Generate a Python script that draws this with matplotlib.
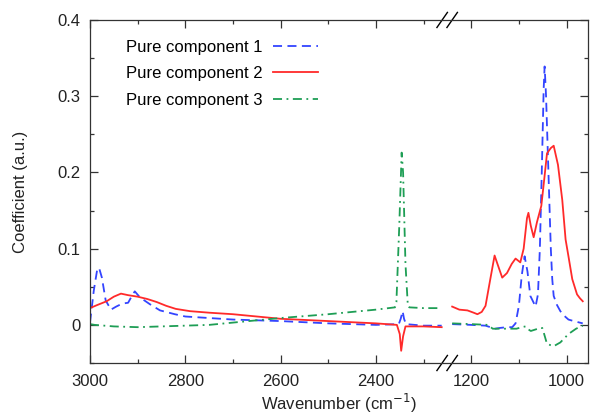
import numpy as np
from matplotlib import pyplot as plt
from matplotlib.transforms import blended_transform_factory

plt.rcParams['font.family'] = ['Liberation Sans', 'DejaVu Sans']

# right part of the axis is shifted by this offset (1250 -> 2250)
SHIFT = 1000

# component 1 (blue, dashed)
c1_left_w = [3000, 2992, 2985, 2981, 2975, 2967, 2956, 2945, 2932, 2920, 2912, 2906, 2895,
             2874, 2853, 2822, 2800, 2750, 2700, 2600, 2500, 2400, 2352, 2348, 2344, 2341,
             2337, 2300, 2262]
c1_left_v = [0.003, 0.045, 0.072, 0.075, 0.062, 0.032, 0.020, 0.024, 0.028, 0.029, 0.038,
             0.044, 0.036, 0.027, 0.019, 0.014, 0.011, 0.009, 0.007, 0.005, 0.002, 0.0,
             0.001, 0.008, 0.018, 0.008, 0.001, -0.001, -0.001]
c1_right_w = [1240, 1200, 1170, 1160, 1150, 1140, 1125, 1114, 1107, 1100, 1094, 1088, 1082,
              1076, 1065, 1060, 1056, 1052, 1048, 1046, 1043, 1038, 1033, 1030, 1027, 1020,
              1013, 1005, 996, 985, 966]
c1_right_v = [0.001, 0.0, -0.001, -0.003, -0.005, -0.004, -0.003, -0.003, 0.002, 0.025,
              0.065, 0.09, 0.07, 0.038, 0.024, 0.04, 0.1, 0.2, 0.31, 0.339, 0.3, 0.2, 0.1,
              0.06, 0.038, 0.026, 0.018, 0.012, 0.007, 0.005, 0.002]

# component 2 (red, solid)
c2_left_w = [3000, 2985, 2965, 2950, 2935, 2920, 2900, 2880, 2860, 2840, 2820, 2790, 2750,
             2700, 2650, 2600, 2500, 2400, 2356, 2350, 2347, 2343, 2338, 2300, 2262]
c2_left_v = [0.022, 0.026, 0.031, 0.037, 0.041, 0.039, 0.037, 0.034, 0.030, 0.025, 0.021,
             0.018, 0.016, 0.014, 0.011, 0.008, 0.005, 0.002, 0.0, -0.012, -0.034, -0.015,
             -0.002, -0.002, -0.003]
c2_right_w = [1240, 1225, 1208, 1195, 1187, 1178, 1170, 1160, 1151, 1145, 1135, 1125, 1115,
              1107, 1097, 1090, 1083, 1080, 1075, 1069, 1062, 1053, 1047, 1041, 1033, 1027,
              1018, 1009, 1002, 996, 988, 978, 972, 966]
c2_right_v = [0.024, 0.020, 0.019, 0.016, 0.014, 0.017, 0.025, 0.060, 0.091, 0.080, 0.062,
              0.068, 0.080, 0.087, 0.082, 0.100, 0.140, 0.147, 0.130, 0.115, 0.135, 0.156,
              0.190, 0.225, 0.232, 0.235, 0.210, 0.164, 0.112, 0.090, 0.060, 0.040, 0.035,
              0.031]

# component 3 (green, dash-dot)
c3_left_w = [3000, 2990, 2950, 2900, 2850, 2800, 2750, 2700, 2650, 2600, 2500, 2400, 2360,
             2357, 2351, 2346, 2343, 2338, 2333, 2330, 2300, 2262]
c3_left_v = [0.001, 0.0, -0.002, -0.003, -0.002, -0.001, 0.0, 0.003, 0.006, 0.009, 0.014,
             0.020, 0.023, 0.03, 0.13, 0.226, 0.2, 0.08, 0.025, 0.023, 0.022, 0.022]
c3_right_w = [1240, 1200, 1165, 1155, 1105, 1094, 1086, 1080, 1075, 1060, 1051, 1047, 1041,
              1027, 1013, 996, 980, 966]
c3_right_v = [0.002, 0.001, 0.0, -0.005, -0.005, -0.003, -0.002, -0.006, -0.008, -0.005,
              -0.004, -0.012, -0.025, -0.028, -0.023, -0.012, -0.005, -0.001]

tick_major = [3000, 2800, 2600, 2400, 1200, 1000]
tick_minor = [2900, 2700, 2500, 2300, 1100]
y_ticks = [0, 0.1, 0.2, 0.3, 0.4]
y_ticklabels = ['0', '0.1', '0.2', '0.3', '0.4']


def shifted(w):
    w = np.array(w, dtype=float)
    return np.where(w < 2000, w + SHIFT, w)


fig = plt.figure(figsize=(5.9, 4.16), dpi=100)
ax = fig.add_axes([0.1525, 0.1274, 0.8441, 0.8246])

blue = '#3344ff'
red = '#ff2a2a'
green = '#1e9e55'
lw = 1.3

ax.plot(shifted(c1_left_w), c1_left_v, color=blue, lw=lw, dashes=(5, 3),
        label='Pure component 1')
ax.plot(shifted(c1_right_w), c1_right_v, color=blue, lw=lw, dashes=(5, 3))
ax.plot(shifted(c2_left_w), c2_left_v, color=red, lw=lw, label='Pure component 2')
ax.plot(shifted(c2_right_w), c2_right_v, color=red, lw=lw)
ax.plot(shifted(c3_left_w), c3_left_v, color=green, lw=lw, dashes=(5, 2.5, 1, 2.5),
        label='Pure component 3')
ax.plot(shifted(c3_right_w), c3_right_v, color=green, lw=lw, dashes=(5, 2.5, 1, 2.5))

ax.set_xlim(3000, 1955)
ax.set_ylim(-0.05, 0.4)

ax.set_xticks(shifted(tick_major))
ax.set_xticklabels([str(t) for t in tick_major])
ax.set_xticks(shifted(tick_minor), minor=True)
ax.set_yticks(y_ticks)
ax.set_yticklabels(y_ticklabels)
ax.set_yticks([-0.05, 0.05, 0.15, 0.25, 0.35], minor=True)

ax.tick_params(which='both', direction='in', top=True, right=True, labelsize=12,
               color='#333333', labelcolor='#222222', width=0.9)
ax.tick_params(which='major', length=5.5, pad=7)
ax.tick_params(axis='x', which='major', pad=8)
ax.tick_params(which='minor', length=3)
for sp in ax.spines.values():
    sp.set_color('#333333')
    sp.set_linewidth(0.9)

ax.set_xlabel('Wavenumber (cm$^{-1}$)', fontsize=12, color='#222222', labelpad=2)
ax.set_ylabel('Coefficient (a.u.)', fontsize=12, color='#222222', labelpad=21)

# axis break marks
trans = blended_transform_factory(ax.transData, ax.transAxes)
for yb in [0.0, 1.0]:
    for xc in [2261, 2240]:
        ax.plot([xc + 11, xc - 11], [yb - 0.022, yb + 0.022], color='black', lw=1,
                transform=trans, clip_on=False)

ax.legend(loc='upper left', bbox_to_anchor=(126 / 590, 1 - 40 / 416),
          bbox_transform=fig.transFigure, frameon=False, markerfirst=False,
          fontsize=12, handlelength=2.7, handletextpad=0.6, labelspacing=0.68,
          borderpad=0, borderaxespad=0)

plt.savefig('out.png', dpi=100)
